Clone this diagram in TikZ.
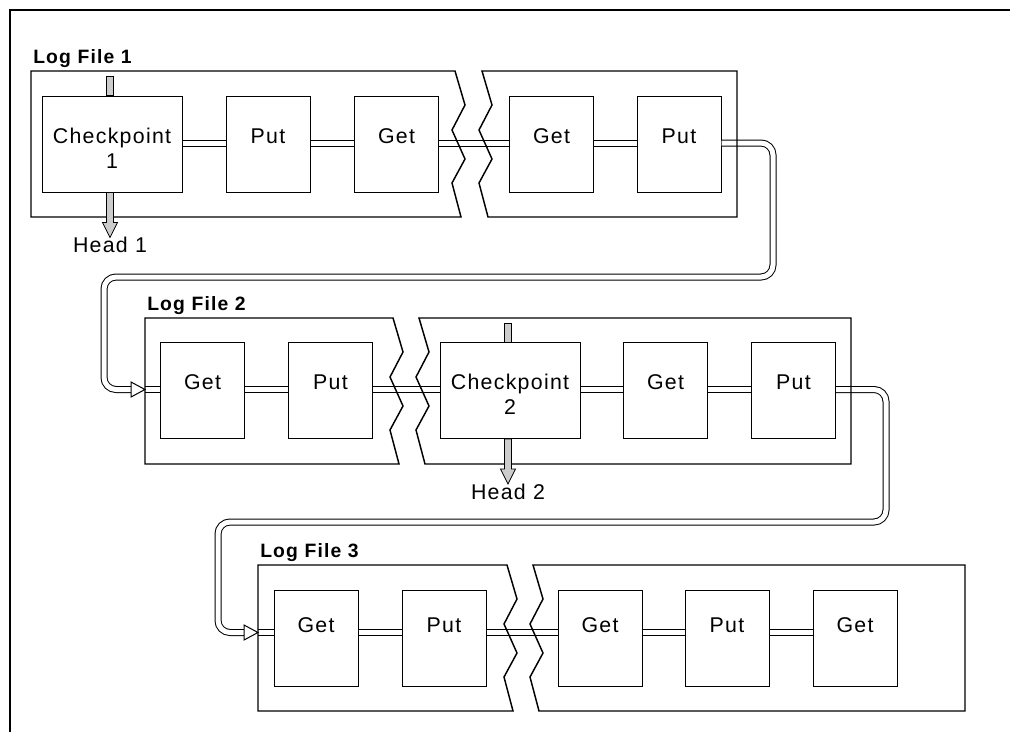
\documentclass[tikz,border=0pt]{standalone}
\usepackage{fontspec}
\setmainfont{Liberation Sans}[LetterSpace=6]
\usetikzlibrary{calc}

\newcommand{\zigpath}[2]{(#1,#2) -- (#1+10,#2+34) -- (#1-3,#2+59) -- (#1+10,#2+88) -- (#1-3,#2+112) -- (#1+6,#2+146)}
\newcommand{\twoln}[2]{\begin{tabular}[t]{@{}c@{}}#1\\#2\end{tabular}}

\tikzset{
  rec/.style={draw, line width=0.75pt, minimum width=63pt, inner sep=0pt,
    text height=35.25pt, text depth=36.75pt, font=\fontsize{16}{19}\selectfont},
  wide/.style={rec, minimum width=105pt},
  low/.style={text height=31.5pt, text depth=40.5pt},
  logbox/.style={draw, line width=1.1pt, line join=miter},
  dline/.style={draw=black, double=white, line width=0.75pt, double distance=3.75pt},
  conn/.style={dline, rounded corners=9pt},
  tiphead/.style={draw, fill=white, line width=0.75pt, line join=miter},
  headbar/.style={draw, fill=gray!40, line width=0.6pt},
  title/.style={font=\fontsize{14.5}{17}\selectfont\bfseries, anchor=base west, inner sep=0pt},
  lbl/.style={font=\fontsize{16}{19}\selectfont, anchor=base, inner sep=0pt}
}

\begin{document}
\begin{tikzpicture}[x=0.75pt, y=-0.75pt]
\useasboundingbox (0,0) rectangle (1010,732);
% frame
\draw[line width=0.8pt] (1010,10) -- (10,10) -- (10,732);

% log file 1
\node[wide] (cp1) at (112,144) {\twoln{Checkpoint}{1}};
\foreach \n/\x/\lab in {p11/268/Put, g11/396.5/Get, g12/551.5/Get, p12/679/Put}
  \node[rec] (\n) at (\x,144) {\lab};

% log file 2
\node[wide] (cp2) at (510,390.5) {\twoln{Checkpoint}{2}};
\foreach \n/\x/\lab in {g21/202.5/Get, p21/330.5/Put, g22/665.5/Get, p22/793.5/Put}
  \node[rec] (\n) at (\x,390.5) {\lab};

% log file 3
\foreach \n/\x/\lab in {g31/316/Get, p31/444/Put, g32/600/Get, p32/727/Put, g33/855/Get}
  \node[rec,low] (\n) at (\x,638.5) {\lab};

\coordinate (lf1) at (31,71);
\coordinate (lf2) at (145,318);
\coordinate (lf3) at (258,565);
\coordinate (in2) at (g21.base west -| lf2);
\coordinate (in3) at (g31.base west -| lf3);

% links inside the files
\foreach \a/\b in {cp1/p11, p11/g11, g11/g12, g12/p12, g21/p21, p21/cp2, cp2/g22, g22/p22,
                   g31/p31, p31/g32, g32/p32, p32/g33}
  \draw[dline] (\a.base east) -- (\b.base west);
\draw[dline] (in2) -- (g21.base west);
\draw[dline] (in3) -- (g31.base west);

% wrap to next file
\coordinate (turn1) at (773,277);
\coordinate (back1) at (104,277);
\draw[conn] (p12.base east) -| (turn1) -- (back1) |- ($(in2)+(-14,0)$);
\draw[tiphead] (in2) -- ($(in2)+(-14,-7.5)$) -- ($(in2)+(-14,7.5)$) -- cycle;
\coordinate (turn2) at (886,522);
\coordinate (back2) at (218,522);
\draw[conn] (p22.base east) -| (turn2) -- (back2) |- ($(in3)+(-14,0)$);
\draw[tiphead] (in3) -- ($(in3)+(-14,-7.5)$) -- ($(in3)+(-14,7.5)$) -- cycle;

% file outlines
\draw[logbox] (31,71) -- \zigpath{455}{71} -- (31,217) -- cycle;
\draw[logbox] \zigpath{482}{71} -- (737,217) -- (737,71) -- cycle;
\draw[logbox] (145,318) -- \zigpath{393}{318} -- (145,464) -- cycle;
\draw[logbox] \zigpath{419}{318} -- (851,464) -- (851,318) -- cycle;
\draw[logbox] (258,565) -- \zigpath{507}{565} -- (258,711) -- cycle;
\draw[logbox] \zigpath{533}{565} -- (965,711) -- (965,565) -- cycle;

\node[title] (t1) at ($(lf1)+(2,-8)$) {Log File 1};
\node[title] (t2) at ($(lf2)+(2,-8)$) {Log File 2};
\node[title] (t3) at ($(lf3)+(2,-8)$) {Log File 3};

% head markers
\foreach \c/\k in {cp1/1, cp2/2} {
  \draw[headbar] ($(\c.north)+(-5.5,-19)$) rectangle ($(\c.north)+(1.5,0)$);
  \draw[headbar] ($(\c.south)+(-5.5,0)$) -- ++(0,30) -- ++(-4,0) -- ++(7.5,15)
    -- ++(7.5,-15) -- ++(-4,0) -- ++(0,-30) -- cycle;
  \node[lbl] (h\k) at ($(\c.south)+(-2,60)$) {Head \k};
}
\end{tikzpicture}
\end{document}
